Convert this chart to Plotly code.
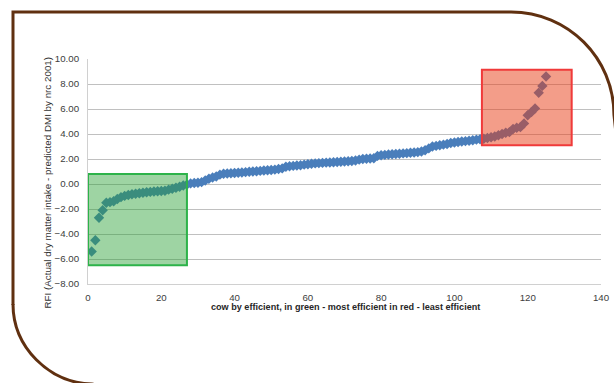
import plotly.graph_objects as go

# ---- data ----
cow_index = list(range(1, 126))
rfi_values = [
    -5.40, -4.50, -2.70, -2.10, -1.50, -1.45, -1.38, -1.20, -1.05, -0.95,
    -0.88, -0.82, -0.78, -0.74, -0.70, -0.66, -0.63, -0.60, -0.58, -0.56,
    -0.54, -0.45, -0.38, -0.30, -0.22, -0.12, -0.05, 0.05, 0.08, 0.10,
    0.15, 0.28, 0.42, 0.52, 0.60, 0.75, 0.82, 0.84, 0.86, 0.88,
    0.90, 0.92, 0.95, 0.98, 1.00, 1.02, 1.05, 1.08, 1.10, 1.12,
    1.15, 1.20, 1.25, 1.38, 1.42, 1.45, 1.48, 1.50, 1.55, 1.58,
    1.62, 1.65, 1.67, 1.69, 1.71, 1.72, 1.74, 1.76, 1.78, 1.80,
    1.82, 1.84, 1.88, 1.95, 2.00, 2.02, 2.04, 2.06, 2.25, 2.30,
    2.33, 2.36, 2.38, 2.40, 2.42, 2.45, 2.47, 2.50, 2.52, 2.55,
    2.60, 2.70, 2.85, 3.00, 3.05, 3.10, 3.15, 3.20, 3.28, 3.32,
    3.36, 3.40, 3.43, 3.46, 3.50, 3.55, 3.58, 3.62, 3.68, 3.74,
    3.80, 3.90, 4.00, 4.10, 4.15, 4.40, 4.50, 4.55, 4.85, 5.50,
    5.75, 6.05, 7.30, 7.85, 8.60,
]
x_ticks = [0, 20, 40, 60, 80, 100, 120, 140]
y_ticks = [-8, -6, -4, -2, 0, 2, 4, 6, 8, 10]
green_box = {"x0": 0, "x1": 27, "y0": -6.5, "y1": 0.8}
red_box = {"x0": 107.5, "x1": 132, "y0": 3.1, "y1": 9.15}
x_title = "cow by efficient, in green - most efficient in red - least efficient"
y_title = "RFI (Actual dry matter intake - predicted DMI by nrc 2001)"

KX = 622 / 614  # horizontal compensation for the capture scaling
KY = 1.0
W, H = 622, 383
L, T = 87 * KX, 59 * KY
R = W - 600 * KX
B = H - 284 * KY
PW, PH = W - L - R, H - T - B


def px(x):
    return (x * KX - L) / PW


def py(y):
    return (H - B - y * KY) / PH


def pt(x, y):
    return f"{px(x):.4f},{py(y):.4f}"


fig = go.Figure()
fig.add_trace(go.Scatter(
    x=cow_index, y=rfi_values, mode="markers",
    marker=dict(symbol="diamond", size=8, color="#4a7ebb",
                line=dict(width=0)),
    showlegend=False, hoverinfo="skip",
))

fig.add_shape(type="rect", xref="x", yref="y", layer="above",
              fillcolor="rgba(40,160,50,0.45)",
              line=dict(color="#2db34a", width=2), **green_box)
fig.add_shape(type="rect", xref="x", yref="y", layer="above",
              fillcolor="rgba(232,60,20,0.5)",
              line=dict(color="#f03a3a", width=2), **red_box)

# decorative frame
frame_color = "#603010"
top_path = ("M " + pt(12, 305) + " L " + pt(12, 12) + " L " + pt(510, 12)
            + " C " + pt(566.9, 12) + " " + pt(613, 58.1) + " " + pt(613, 115)
            + " L " + pt(619, 170))
bottom_path = ("M " + pt(12, 304) + " C " + pt(12, 347.1) + " " + pt(47.9, 383)
               + " " + pt(91, 384) + " L " + pt(140, 395))
for p in (top_path, bottom_path):
    fig.add_shape(type="path", xref="paper", yref="paper", path=p,
                  line=dict(color=frame_color, width=3), layer="above")

tick_font = dict(family="Liberation Sans, Arial, sans-serif", size=9.7, color="#404040")

fig.update_layout(
    width=W, height=H,
    margin=dict(l=L, r=R, t=T, b=B),
    paper_bgcolor="white", plot_bgcolor="white",
    xaxis=dict(range=[0, 140], tickvals=x_ticks, showgrid=False, zeroline=False,
               showline=True, linecolor="#d0d0d0", linewidth=1,
               tickfont=tick_font, ticks="", ticklabelstandoff=4),
    yaxis=dict(range=[-8, 10], tickvals=y_ticks, tickformat=".2f",
               showgrid=True, gridcolor="#c0c0c0", gridwidth=1, zeroline=False,
               showline=True, linecolor="#d0d0d0", linewidth=1,
               tickfont=tick_font, ticks="", ticklabelstandoff=6),
    annotations=[
        dict(text="<b>" + x_title + "</b>", xref="paper", yref="paper",
             x=px(344), y=py(313.5), showarrow=False,
             font=dict(family="Liberation Sans Narrow, Arial Narrow, Liberation Sans, sans-serif",
                       size=9.1, color="#262626")),
        dict(text=y_title, xref="paper", yref="paper", textangle=-90,
             x=px(38), y=py(183), showarrow=False,
             font=dict(family="Liberation Sans Narrow, Arial Narrow, Liberation Sans, sans-serif",
                       size=9.8, color="#333333")),
    ],
)

fig.write_html(
    "out.html",
    config={"displayModeBar": False},
    post_script="document.body.style.margin='0';document.body.style.overflow='hidden';",
)
